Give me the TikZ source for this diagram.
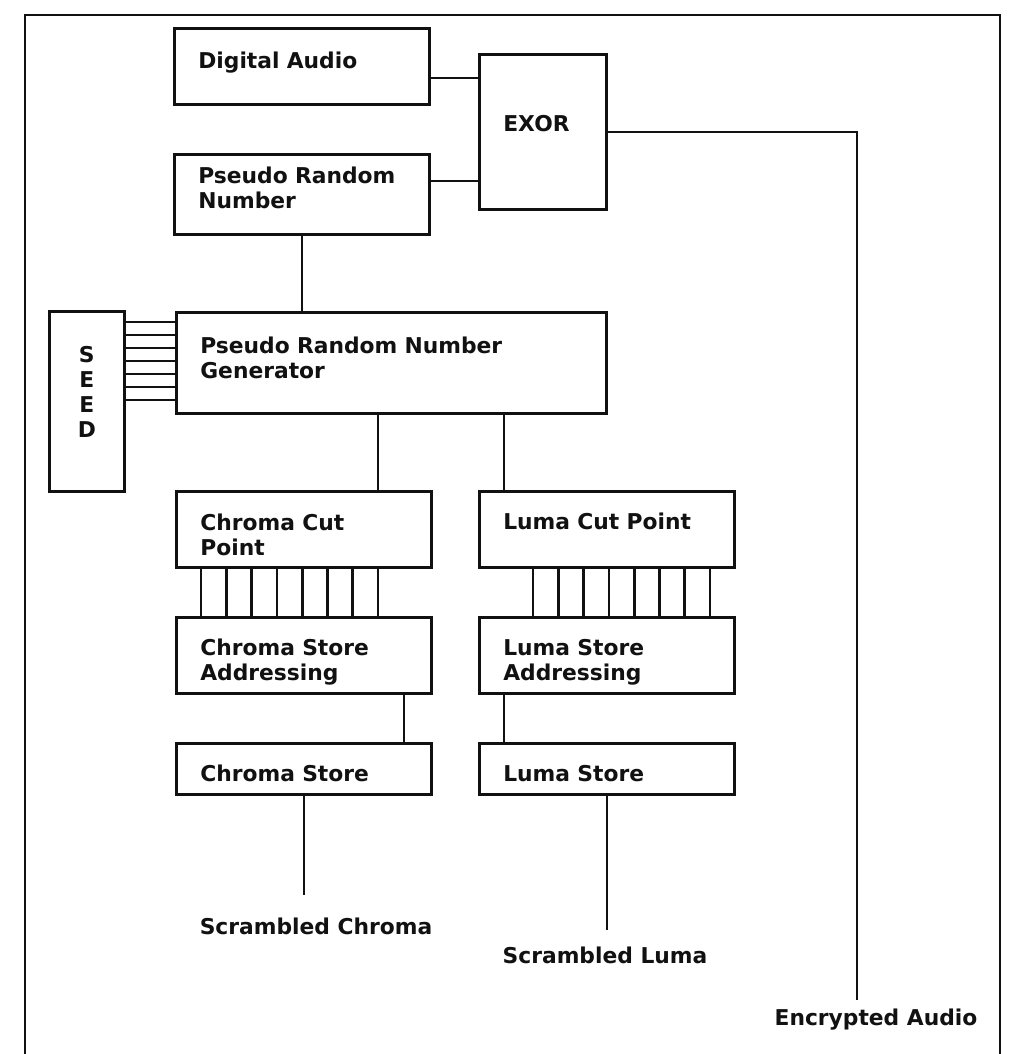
\documentclass[tikz,border=0pt]{standalone}
\usepackage{fontspec}
\setmainfont{DejaVu Sans}
\usepackage{tikz}
\usetikzlibrary{positioning,calc}
\definecolor{ink}{HTML}{111111}
\tikzset{
  blk/.style={draw=ink, line width=1.9pt, inner xsep=0.6cm, inner ysep=0pt,
    align=left, anchor=north west, text=ink},
  wire/.style={draw=ink, line width=1.9pt},
  lbl/.style={text=ink, inner sep=0pt},
}

\begin{document}
\begin{tikzpicture}[x=0.025cm,y=-0.025cm,font=\fontsize{15.5}{17.8}\selectfont\bfseries]
  \useasboundingbox (0,0) rectangle (1010,1054);
  % frame, open at the foot
  \draw[wire] (25,1054) -- (25,15) -- (1000,15) -- (1000,1054);

  \node[blk, minimum height=1.9cm, text width=5.175cm] (da) at (173,27) {Digital Audio\\[-9pt]\mbox{}};
  \node[blk, minimum height=3.875cm, text width=1.975cm] (exor) at (478,53) {EXOR\\[-6pt]\mbox{}};
  \node[blk, minimum height=2.0cm, text width=5.175cm] (prn) at (173,153) {Pseudo Random\\Number\\[-9pt]\mbox{}};
  \node[blk, minimum height=2.525cm, text width=9.55cm] (prng) at (175,311) {Pseudo Random Number\\Generator\\[-10pt]\mbox{}};
  \node[blk, minimum height=4.5cm, minimum width=1.875cm, inner xsep=0pt, align=center] (seed) at (48,310) {S\\E\\E\\D\\[-4pt]\mbox{}};

  \node[blk, minimum height=1.9cm, text width=5.175cm] (ccut) at (175,490) {\rule{0pt}{19pt}Chroma Cut\\Point};
  \node[blk, minimum height=1.9cm, text width=5.175cm] (lcut) at (478,490) {Luma Cut Point\\[-6pt]\mbox{}};
  \node[blk, minimum height=1.9cm, text width=5.175cm] (cadr) at (175,616) {\rule{0pt}{22pt}Chroma Store\\Addressing};
  \node[blk, minimum height=1.9cm, text width=5.175cm] (ladr) at (478,616) {\rule{0pt}{22pt}Luma Store\\Addressing};
  \node[blk, minimum height=1.275cm, text width=5.175cm] (cst) at (175,742) {\rule{0pt}{17.5pt}Chroma Store};
  \node[blk, minimum height=1.275cm, text width=5.175cm] (lst) at (478,742) {\rule{0pt}{17.5pt}Luma Store};

  \node[lbl] (sc) at (316,926) {Scrambled Chroma};
  \node[lbl] (sl) at (605,955) {Scrambled Luma};
  \node[lbl] (ea) at (876,1020) {Encrypted Audio};

  % audio path
  \draw[wire] (da.east |- 0,78) -- (exor.west |- 0,78);
  \draw[wire] (prn.east |- 0,181) -- (exor.west |- 0,181);
  \coordinate (eaend) at (857,1000);
  \draw[wire] (exor.east) -| (eaend);

  % generator
  \draw[wire] (prn.south) -- (prn.south |- prng.north);
  \foreach \y in {0,...,6}
    \draw[wire] (seed.east |- 0,322+13*\y) -- (prng.west |- 0,322+13*\y);
  \draw[wire] (378,0 |- prng.south) -- (378,0 |- ccut.north);
  \draw[wire] (504,0 |- prng.south) -- (504,0 |- lcut.north);

  % cut point buses
  \foreach \x in {0,...,7} {
    \draw[wire] (201+25.3*\x,0 |- ccut.south) -- (201+25.3*\x,0 |- cadr.north);
    \draw[wire] (533+25.3*\x,0 |- lcut.south) -- (533+25.3*\x,0 |- ladr.north);
  }
  \draw[wire] (404,0 |- cadr.south) -- (404,0 |- cst.north);
  \draw[wire] (504,0 |- ladr.south) -- (504,0 |- lst.north);

  % outputs
  \coordinate (scend) at (302,895);
  \coordinate (slend) at (606,930);
  \draw[wire] (cst.south) -- (cst.south |- scend);
  \draw[wire] (lst.south) -- (lst.south |- slend);
\end{tikzpicture}
\end{document}
